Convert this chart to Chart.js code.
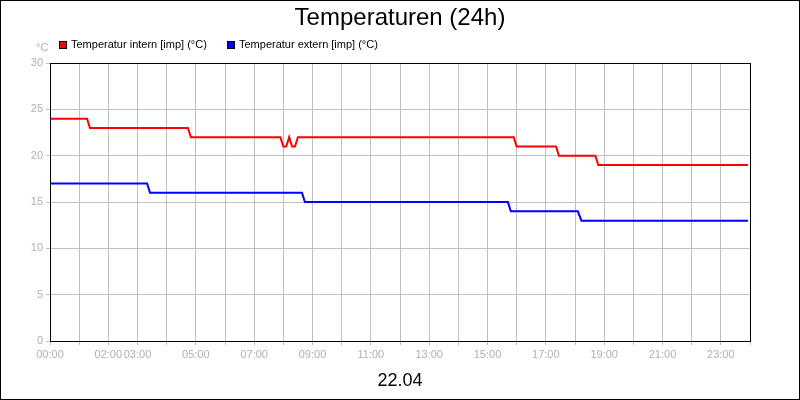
<!DOCTYPE html>
<html><head><meta charset="utf-8">
<script src="https://cdn.jsdelivr.net/npm/chart.js@4"></script>
<style>html,body{margin:0;padding:0;background:#fff}#wrap{width:800px;height:400px}</style>
</head><body><div id="wrap"><canvas id="c" width="800" height="400"></canvas></div>
<script>
const titel = "Temperaturen (24h)";
const datum = "22.04";
const einheit = "°C";
const serienNamen = ["Temperatur intern [imp] (°C)", "Temperatur extern [imp] (°C)"];
const serienFarben = ["#ff0000", "#0000ff"];
// Stunden und Werte
const internStunden = [0, 1.27, 1.37, 4.73, 4.83, 7.9, 8.0, 8.1, 8.2, 8.3, 8.4, 8.5, 15.9, 16.0, 17.35, 17.45, 18.7, 18.8, 23.93];
const internWerte   = [24, 24, 23, 23, 22, 22, 21, 21, 22, 21, 21, 22, 22, 21, 21, 20, 20, 19, 19];
const externStunden = [0, 3.33, 3.43, 8.64, 8.74, 15.7, 15.8, 18.1, 18.22, 23.93];
const externWerte   = [17, 17, 16, 16, 15, 15, 14, 14, 13, 13];
const xLabelStunden = [0, 2, 3, 5, 7, 9, 11, 13, 15, 17, 19, 21, 23];

const pts = (xs, ys) => xs.map((x, i) => ({ x: x, y: ys[i] }));
const pad = n => (n < 10 ? "0" : "") + n;

const deko = {
    id: "deko",
    afterDraw(chart) {
        const ctx = chart.ctx, a = chart.chartArea;
        ctx.save();
        ctx.strokeStyle = "#000"; ctx.lineWidth = 1;
        ctx.strokeRect(0.5, 0.5, 799, 399);
        ctx.strokeRect(Math.round(a.left) + 0.5, Math.round(a.top) + 0.5, Math.round(a.right - a.left), Math.round(a.bottom - a.top));
        ctx.fillStyle = "#000"; ctx.textAlign = "center"; ctx.textBaseline = "middle";
        ctx.font = "24px 'Liberation Sans', Arial, sans-serif";
        ctx.fillText(titel, 400, 18);
        ctx.font = "11px 'Liberation Sans', Arial, sans-serif";
        ctx.textAlign = "left";
        let x = 59;
        serienNamen.forEach((n, i) => {
            ctx.fillStyle = serienFarben[i]; ctx.fillRect(x, 41, 8, 8);
            ctx.strokeStyle = "#000"; ctx.strokeRect(x + 0.5, 41.5, 7, 7);
            ctx.fillStyle = "#000"; ctx.fillText(n, x + 12, 45);
            x += 168;
        });
        ctx.fillStyle = "#b0b0b0"; ctx.fillText(einheit, 36, 48);
        ctx.restore();
    }
};

new Chart(document.getElementById("c").getContext("2d"), {
    type: "line",
    data: {
        datasets: [
            { label: serienNamen[0], data: pts(internStunden, internWerte), borderColor: serienFarben[0], borderWidth: 2, pointRadius: 0, tension: 0 },
            { label: serienNamen[1], data: pts(externStunden, externWerte), borderColor: serienFarben[1], borderWidth: 2, pointRadius: 0, tension: 0 }
        ]
    },
    options: {
        responsive: false, animation: false,
        layout: { padding: { top: 63, right: 50, left: 0, bottom: 4 } },
        plugins: { legend: { display: false }, title: { display: false }, tooltip: { enabled: false } },
        scales: {
            x: {
                type: "linear", min: 0, max: 24,
                grid: { color: "#c0c0c0", drawTicks: true, tickLength: 4 },
                border: { color: "#000" },
                ticks: {
                    stepSize: 1, autoSkip: false, maxRotation: 0, color: "#b0b0b0",
                    font: { size: 11, family: "'Liberation Sans', Arial" },
                    callback: v => xLabelStunden.includes(v) ? pad(v) + ":00" : ""
                },
                title: { display: true, text: datum, color: "#000", font: { size: 18, family: "'Liberation Sans', Arial" }, padding: { top: 6 } }
            },
            y: {
                min: 0, max: 30,
                afterFit: s => { s.width = 50; },
                grid: { color: "#c0c0c0", tickLength: 4 },
                border: { color: "#000" },
                ticks: { stepSize: 5, color: "#b0b0b0", font: { size: 11, family: "'Liberation Sans', Arial" } }
            }
        }
    },
    plugins: [deko]
});
</script></body></html>
